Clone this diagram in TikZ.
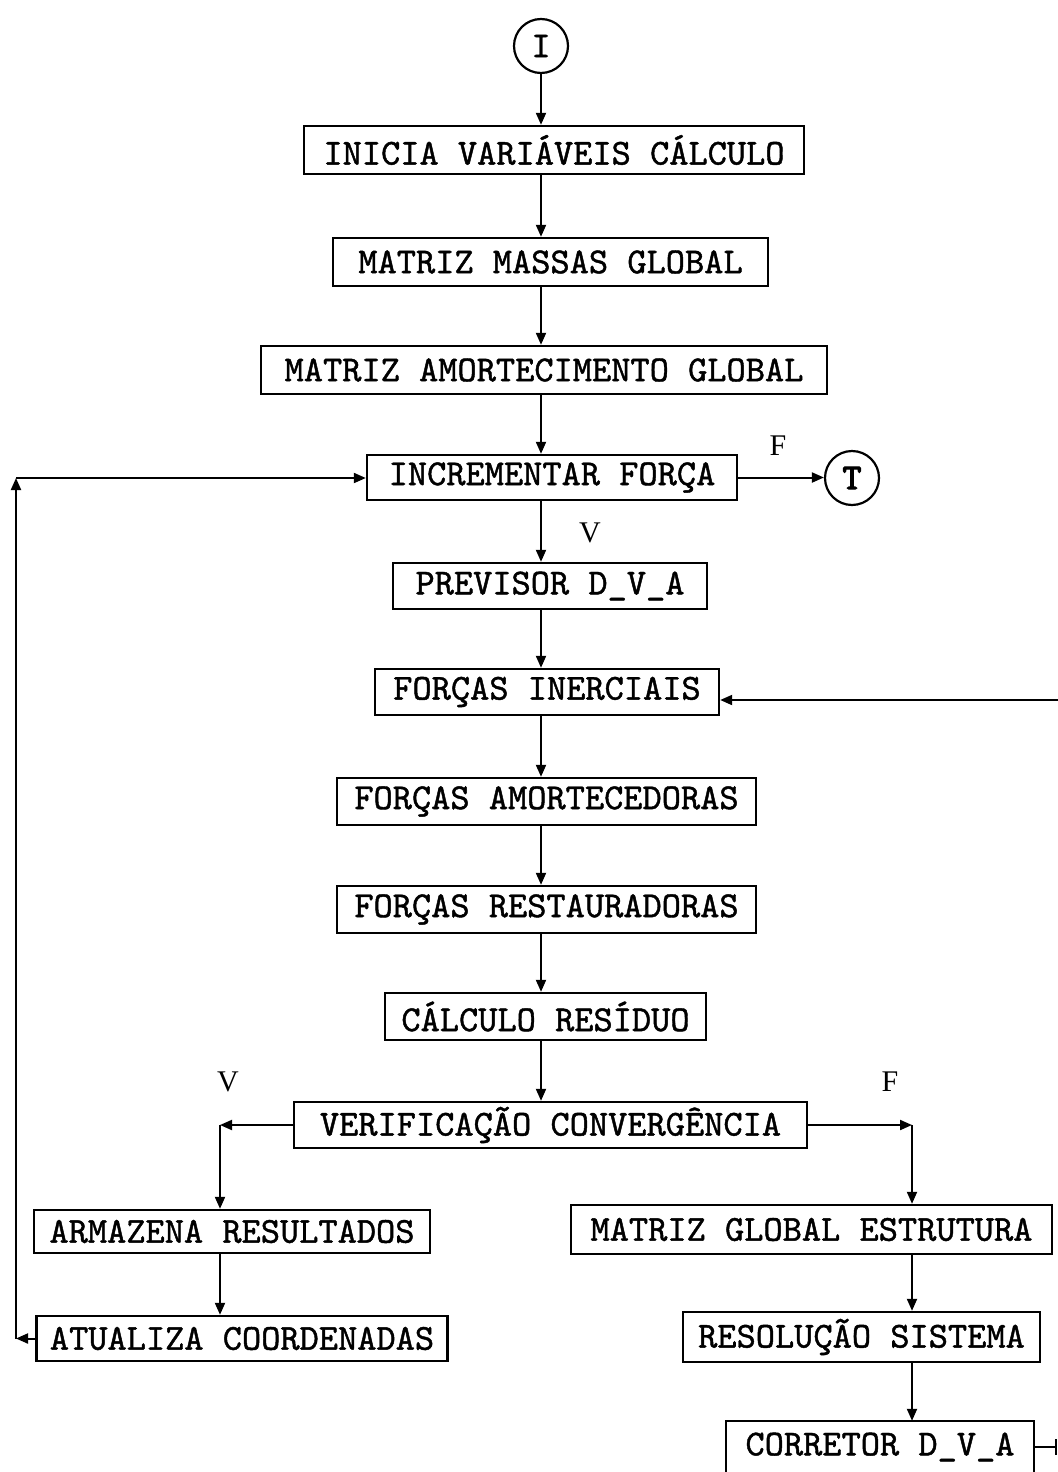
\documentclass[tikz,border=0pt]{standalone}
\usepackage{fontspec}
\setmainfont{Liberation Serif}
\newfontfamily\boxfont{lmmono10-regular.otf}[FakeBold=1.2]
\newfontfamily\boxfontb{lmmono10-regular.otf}[FakeBold=3]
\usetikzlibrary{arrows.meta}
\begin{document}
\begin{tikzpicture}[x=0.5pt,y=-0.5pt,
  box/.style={draw,line width=1.2pt,inner sep=0pt,font=\boxfont\fontsize{18.3}{18.3}\selectfont},
  circ/.style={draw,circle,line width=1.1pt,minimum size=27pt,inner sep=0pt,font=\boxfont\fontsize{18.3}{18.3}\selectfont},
  arr/.style={line width=1pt,-{Triangle[length=6pt,width=5pt]}},
  ln/.style={line width=1pt},
  lbl/.style={font=\fontsize{15}{15}\selectfont}]
\useasboundingbox (0,0) rectangle (1058,1472);
\clip (0,0) rectangle (1058,1472);

\node[circ] (I) at (541,46) {I};
\node[box,minimum width=250pt,minimum height=24pt] (init) at (554,150) {INICIA VARIÁVEIS CÁLCULO};
\node[box,minimum width=217.5pt,minimum height=24pt] (massas) at (550.5,262) {MATRIZ MASSAS GLOBAL};
\node[box,minimum width=283pt,minimum height=24pt] (amort) at (544,370) {MATRIZ AMORTECIMENTO GLOBAL};
\node[box,minimum width=185pt,minimum height=22.5pt] (incr) at (552,477.5) {INCREMENTAR FORÇA};
\node[circ,font=\boxfontb\fontsize{18.3}{18.3}\selectfont] (T) at (852,478) {T};
\node[box,minimum width=157pt,minimum height=23pt] (prev) at (550,586) {PREVISOR D\_V\_A};
\node[box,minimum width=172pt,minimum height=23pt] (inerc) at (547,692) {FORÇAS INERCIAIS};
\node[box,minimum width=209.5pt,minimum height=23.5pt] (amortec) at (546.5,801.5) {FORÇAS AMORTECEDORAS};
\node[box,minimum width=209.5pt,minimum height=23.5pt] (restaur) at (546.5,909.5) {FORÇAS RESTAURADORAS};
\node[box,minimum width=160.5pt,minimum height=23.5pt] (calc) at (545.5,1016.5) {CÁLCULO RESÍDUO};
\node[box,minimum width=256.5pt,minimum height=23pt] (verif) at (550.5,1125) {VERIFICAÇÃO CONVERGÊNCIA};
\node[box,minimum width=198pt,minimum height=21.5pt] (armaz) at (232,1231.5) {ARMAZENA RESULTADOS};
\node[box,minimum width=205.5pt,minimum height=22.5pt] (atual) at (242,1338.5) {ATUALIZA COORDENADAS};
\node[box,minimum width=240.5pt,minimum height=24.5pt] (mge) at (811.5,1229.5) {MATRIZ GLOBAL ESTRUTURA};
\node[box,minimum width=178.5pt,minimum height=25pt] (resol) at (861.5,1337) {RESOLUÇÃO SISTEMA};
\node[box,draw=none,minimum width=153pt,minimum height=25pt] (corr) at (880,1447) {CORRETOR D\_V\_A};
\draw[line width=1.2pt] (corr.south west) |- (corr.north east) -- (corr.south east);

\node[lbl] (lf1) at (778,446) {F};
\node[lbl] (lv1) at (590,533) {V};
\node[lbl] (lv2) at (228,1082) {V};
\node[lbl] (lf2) at (890,1082) {F};

% main column
\draw[arr] (I) -- (I |- init.north);
\draw[arr] (init.south -| I) -- (I |- massas.north);
\draw[arr] (massas.south -| I) -- (I |- amort.north);
\draw[arr] (amort.south -| I) -- (I |- incr.north);
\draw[arr] (incr.south -| I) -- (I |- prev.north);
\draw[arr] (prev.south -| I) -- (I |- inerc.north);
\draw[arr] (inerc.south -| I) -- (I |- amortec.north);
\draw[arr] (amortec.south -| I) -- (I |- restaur.north);
\draw[arr] (restaur.south -| I) -- (I |- calc.north);
\draw[arr] (calc.south -| I) -- (I |- verif.north);
\draw[arr] (incr.east) -- (incr.east -| T.west);

% left branch
\coordinate (vl) at (220,1125);
\draw[arr] (verif.west) -- (vl);
\draw[arr] (vl) -- (vl |- armaz.north);
\draw[arr] (armaz.south -| vl) -- (vl |- atual.north);
\coordinate (cl1) at (16,1338.5);
\coordinate (cl2) at (16,478);
\draw[arr] (atual.west) -- (cl1);
\draw[arr] (cl1) -- (cl2);
\draw[arr] (cl2) -- (cl2 -| incr.west);

% right branch
\coordinate (vr) at (912,1125);
\draw[arr] (verif.east) -- (vr);
\draw[arr] (vr) -- (vr |- mge.north);
\draw[arr] (mge.south -| vr) -- (vr |- resol.north);
\draw[arr] (resol.south -| vr) -- (vr |- corr.north);
\coordinate (rout) at (1056,1447);
\draw[ln] (corr.east) -- (rout);
\draw[ln] (1056,1439) -- (1056,1455);
\coordinate (rin) at (1058,700);
\draw[arr] (rin) -- (rin -| inerc.east);
\end{tikzpicture}
\end{document}
